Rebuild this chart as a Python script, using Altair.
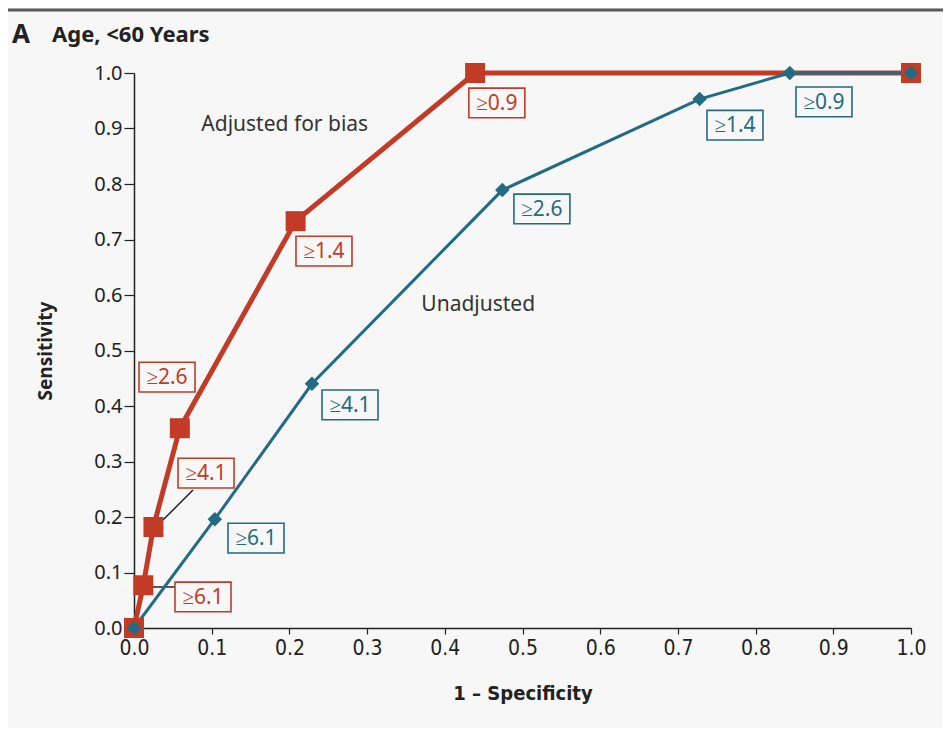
import altair as alt
import pandas as pd

# ROC points
adj_x = [0.0, 0.012, 0.025, 0.059, 0.208, 0.439, 1.0]
adj_y = [0.0, 0.077, 0.182, 0.360, 0.733, 1.0, 1.0]
unadj_x = [0.0, 0.104, 0.229, 0.474, 0.728, 0.844, 1.0]
unadj_y = [0.0, 0.196, 0.440, 0.789, 0.953, 1.0, 1.0]

# threshold labels
adj_labels = ["≥0.9", "≥1.4", "≥2.6", "≥4.1", "≥6.1"]
adj_lab_x = [0.467, 0.2445, 0.0425, 0.0927, 0.0888]
adj_lab_y = [0.946, 0.679, 0.452, 0.279, 0.056]
unadj_labels = ["≥0.9", "≥1.4", "≥2.6", "≥4.1", "≥6.1"]
unadj_lab_x = [0.888, 0.7735, 0.525, 0.278, 0.157]
unadj_lab_y = [0.948, 0.906, 0.755, 0.402, 0.162]

# leader lines for two red labels
lead_x = [0.0373, 0.0206]
lead_y = [0.1946, 0.0739]
lead_x2 = [0.0759, 0.0579]
lead_y2 = [0.2486, 0.0739]

curve_names = ["Adjusted for bias", "Unadjusted"]
curve_name_x = [0.194, 0.443]
curve_name_y = [0.906, 0.582]

RED = "#c23b27"
BLUE = "#236a85"
BG = "#f7f7f7"
COND = "DejaVu Sans Condensed, Roboto Condensed, Roboto, sans-serif"

adj = pd.DataFrame({"x": adj_x, "y": adj_y})
unadj = pd.DataFrame({"x": unadj_x, "y": unadj_y})
adj_lab = pd.DataFrame({"x": adj_lab_x, "y": adj_lab_y, "t": adj_labels})
unadj_lab = pd.DataFrame({"x": unadj_lab_x, "y": unadj_lab_y, "t": unadj_labels})
leads = pd.DataFrame({"x": lead_x, "y": lead_y, "x2": lead_x2, "y2": lead_y2})
names = pd.DataFrame({"x": curve_name_x, "y": curve_name_y, "t": curve_names})

xs = alt.Scale(domain=[0, 1], nice=False, zero=False)
ys = alt.Scale(domain=[0, 1], nice=False, zero=False)
ticks = [round(i / 10, 1) for i in range(11)]

X = alt.X("x:Q", scale=xs, title="1 – Specificity",
          axis=alt.Axis(values=ticks, format=".1f", labelFont=COND,
                        labelFontSize=21, labelColor="#222", tickSize=6, tickColor="#222",
                        domainColor="#222", domainWidth=1.5, tickWidth=1.2, labelPadding=3,
                        labelFlush=False, labelOverlap=False,
                        titleFont=COND, titleFontSize=20, titleFontWeight="bold",
                        titleColor="#222", titleY=65, titleBaseline="middle", grid=False))
Y = alt.Y("y:Q", scale=ys, title="Sensitivity",
          axis=alt.Axis(values=ticks, format=".1f", labelFont="Noto Sans",
                        labelFontSize=20, labelColor="#222", tickSize=10, tickColor="#222",
                        domainColor="#222", domainWidth=1.5, tickWidth=1.2, labelPadding=2,
                        labelFlush=False, labelOverlap=False,
                        titleFont="Noto Sans", titleFontSize=19, titleFontWeight="bold",
                        titleColor="#222", titleX=-89, titleBaseline="middle", grid=False))

box_path = "M-1,-0.53L1,-0.53L1,0.53L-1,0.53Z"

border = alt.Chart(pd.DataFrame({"a": [0]})).mark_rule(color="#5a5a5a", strokeWidth=3).encode(
    x=alt.value(-126), x2=alt.value(809), y=alt.value(-63))

title_a = alt.Chart(pd.DataFrame({"t": ["A"]})).mark_text(
    font="Noto Sans", fontSize=26, fontWeight="bold",
    align="left", baseline="middle", color="#222").encode(
    x=alt.value(-122), y=alt.value(-38), text="t:N")
title_b = alt.Chart(pd.DataFrame({"t": ["Age, <60 Years"]})).mark_text(
    font="Noto Sans", fontSize=22, fontWeight="bold", align="left", baseline="middle",
    color="#222").encode(x=alt.value(-82), y=alt.value(-38), text="t:N")

adj_line = alt.Chart(adj).mark_line(color=RED, strokeWidth=5).encode(x=X, y=Y)
adj_pts = alt.Chart(adj).mark_point(shape="square", filled=True, color=RED, size=400, opacity=1).encode(x=X, y=Y)
unadj_line = alt.Chart(unadj).mark_line(color=BLUE, strokeWidth=3).encode(x=X, y=Y)
unadj_pts = alt.Chart(unadj).mark_point(shape="diamond", filled=True, color=BLUE, size=210, opacity=1).encode(x=X, y=Y)

lead_rules = alt.Chart(leads).mark_rule(color="#222", strokeWidth=1.5).encode(
    x=X, y=Y, x2="x2:Q", y2="y2:Q")

def boxes(df, col):
    b = alt.Chart(df).mark_point(shape=box_path, size=3136, fill=BG, fillOpacity=1,
                                 stroke=col, strokeWidth=1.6, opacity=1).encode(x=X, y=Y)
    t = alt.Chart(df).mark_text(font="Noto Sans", fontSize=21, color=col, align="center",
                                baseline="middle", dy=1).encode(x=X, y=Y, text="t:N")
    return b + t

name_txt = alt.Chart(names).mark_text(font="Noto Sans", fontSize=21, color="#333",
                                      align="center", baseline="middle").encode(x=X, y=Y, text="t:N")

chart = alt.layer(
    border, title_a, title_b, lead_rules, adj_line, unadj_line, adj_pts, unadj_pts,
    boxes(adj_lab, RED), boxes(unadj_lab, BLUE), name_txt
).properties(
    width=777, height=555,
    autosize=alt.AutoSizeParams(type="none"),
    padding={"left": 126, "top": 65, "right": 32, "bottom": 100},
    background=BG,
).configure_view(stroke=None)

chart.save("out.html", embed_options={"renderer": "svg", "actions": False})
